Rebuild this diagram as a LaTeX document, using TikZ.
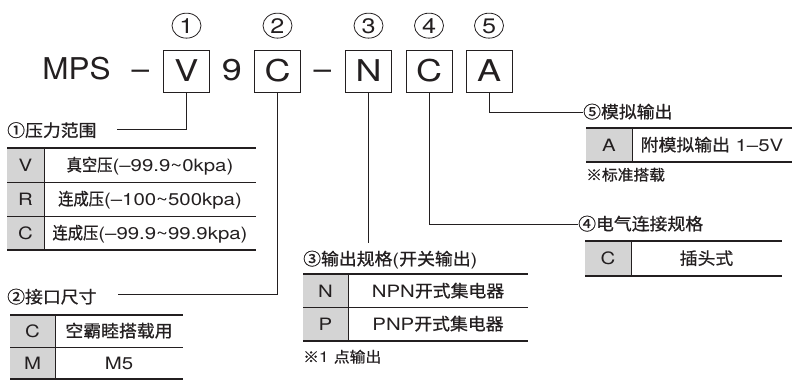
\documentclass[tikz,border=0pt]{standalone}
\usepackage{fontspec}
\setmainfont{TeX Gyre Heros}[FakeStretch=1.2]
\newfontfamily\mps{TeX Gyre Heros}[FakeStretch=1.05]
\newfontfamily\cjk{Noto Sans CJK SC}[FakeStretch=1.05,FakeBold=0.8]
\newfontfamily\cjkn{Noto Sans CJK SC}[FakeStretch=0.9,FakeBold=0.8]
\usepackage{tikz}
\usetikzlibrary{positioning,shapes.geometric}

\definecolor{ink}{RGB}{35,31,32}
\definecolor{keygray}{RGB}{212,212,212}

\tikzset{
  bigtext/.style={inner sep=0pt, text height=21.5pt, text depth=0pt, font=\fontsize{30}{30}\selectfont},
  codebox/.style={bigtext, draw=ink, line width=0.9pt, minimum width=46pt, minimum height=42pt},
  digit/.style={ellipse, draw=ink, line width=0.8pt, minimum width=29pt, minimum height=25pt, inner sep=0pt, text height=15pt, text depth=0pt, font=\fontsize{21}{21}\selectfont},
  lbl/.style={anchor=west, inner sep=0pt, text height=12.2pt, text depth=0pt, font=\fontsize{17}{17}\selectfont},
  note/.style={anchor=west, inner sep=0pt, text height=10.8pt, text depth=0pt, font=\fontsize{15}{15}\selectfont},
  cell/.style={inner sep=0pt, text height=12.2pt, text depth=0pt, font=\fontsize{17}{17}\selectfont},
  rule/.style={draw=ink, line width=2.4pt},
  sep/.style={draw=ink, line width=0.8pt},
  wire/.style={draw=ink, line width=0.9pt}
}

\begin{document}
\begin{tikzpicture}[x=1pt,y=-1pt,color=ink]
\useasboundingbox (0,0) rectangle (792,381);

% model code
\node[bigtext,font=\fontsize{30}{30}\mps] (mps) at (76.5,69) {MPS};
\node[bigtext,font=\fontsize{30}{30}\mps] (dash1) at (140.5,69) {–};
\node[codebox] (bV) at (186.5,71) {V};
\node[bigtext] (nine) at (232,70) {9};
\node[codebox] (bC) at (277.5,71) {C};
\node[bigtext,font=\fontsize{30}{30}\mps] (dash2) at (322.5,69) {–};
\node[codebox] (bN) at (368.5,71) {N};
\node[codebox] (bE) at (429,71) {C};
\node[codebox] (bA) at (489,71) {A};

\node[digit, above=11pt of bV] (n1) {1};
\node[digit, above=11pt of bC] (n2) {2};
\node[digit, above=11pt of bN] (n3) {3};
\node[digit, above=11pt of bE] (n4) {4};
\node[digit, above=11pt of bA] (n5) {5};

% labels and leaders
\node[lbl] (l1) at (7,130.5) {\cjk ①压力范围};
\node[lbl] (l2) at (7,297) {\cjk ②接口尺寸};
\node[lbl] (l3) at (303,259) {{\cjk ③输出规格}({\cjk 开关输出})};
\node[lbl] (l4) at (578,224) {\cjk ④电气连接规格};
\node[lbl] (l5) at (583,112) {\cjk ⑤模拟输出};

\coordinate (e1) at (117,129.5);
\coordinate (e2) at (118,294);
\coordinate (e3) at (368.5,243);
\draw[wire] (bV.south) |- (e1);
\draw[wire] (bC.south) |- (e2);
\draw[wire] (bN.south) -- (e3);
\draw[wire] (bE.south) |- (l4.west);
\draw[wire] (bA.south) |- (l5.west);

% table 1
\fill[keygray] (7,148) rectangle (44,250);
\draw[sep] (44,148) -- (44,250);
\draw[sep] (7,182) -- (256,182);
\draw[sep] (7,216) -- (256,216);
\draw[rule] (7,148) -- (256,148);
\draw[rule] (7,250) -- (256,250);
\node[cell] (t1k1) at (25.5,165) {V};
\node[cell] (t1k2) at (25.5,199) {R};
\node[cell] (t1k3) at (25.5,233) {C};
\node[cell] (t1v1) at (150,165) {{\cjkn 真空压}(–99.9\textasciitilde0kpa)};
\node[cell] (t1v2) at (150,199) {{\cjkn 连成压}(–100\textasciitilde500kpa)};
\node[cell] (t1v3) at (150,233) {{\cjkn 连成压}(–99.9\textasciitilde99.9kpa)};

% table 2
\fill[keygray] (10,315) rectangle (55,379);
\draw[sep] (55,315) -- (55,379);
\draw[sep] (10,347) -- (183,347);
\draw[rule] (10,315) -- (183,315);
\draw[rule] (10,379) -- (183,379);
\node[cell] (t2k1) at (32.5,331) {C};
\node[cell] (t2k2) at (32.5,363) {M};
\node[cell] (t2v1) at (119,331) {\cjk 空霸睦搭载用};
\node[cell] (t2v2) at (119,363) {M5};

% table 3
\fill[keygray] (303,274) rectangle (348,341);
\draw[sep] (348,274) -- (348,341);
\draw[sep] (303,307.5) -- (528,307.5);
\draw[rule] (303,274) -- (528,274);
\draw[rule] (303,341) -- (528,341);
\node[cell] (t3k1) at (325.5,291) {N};
\node[cell] (t3k2) at (325.5,324) {P};
\node[cell] (t3v1) at (438,291) {NPN{\cjk 开式集电器}};
\node[cell] (t3v2) at (438,324) {PNP{\cjk 开式集电器}};
\node[note] (m3) at (303,357) {{\cjk ※}1 {\cjk 点输出}};

% table 4
\fill[keygray] (585,241) rectangle (631,276);
\draw[sep] (631,241) -- (631,276);
\draw[rule] (585,241) -- (782,241);
\draw[rule] (585,276) -- (782,276);
\node[cell] (t4k1) at (608,258.5) {C};
\node[cell] (t4v1) at (706.5,258.5) {\cjk 插头式};

% table 5
\fill[keygray] (586,128) rectangle (632,162);
\draw[sep] (632,128) -- (632,162);
\draw[rule] (586,128) -- (792,128);
\draw[rule] (586,162) -- (792,162);
\node[cell] (t5k1) at (609,145) {A};
\node[cell] (t5v1) at (712,145) {{\cjk 附模拟输出} 1–5V};
\node[note] (m5) at (586,175) {\cjk ※标准搭载};

\end{tikzpicture}
\end{document}
